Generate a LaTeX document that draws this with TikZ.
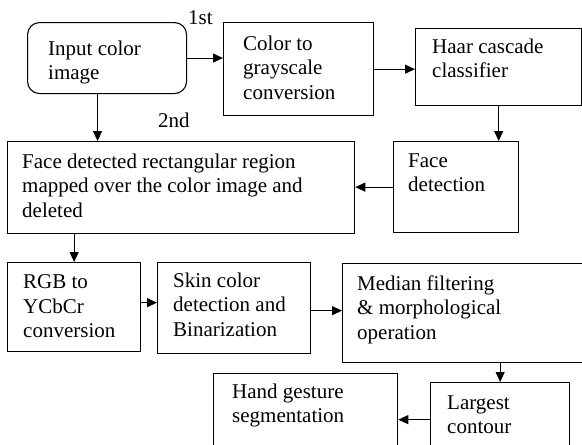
\documentclass[tikz,border=0pt]{standalone}
\usepackage{fontspec}
\setmainfont{Liberation Serif}
\usetikzlibrary{arrows.meta, positioning}

\begin{document}
\begin{tikzpicture}
    [
        x = 1pt, y = -1pt,
        stage/.style = {
            rectangle, draw=black, line width=1.3pt, anchor=north west, inner sep=0pt
            },
        start/.style = {
            stage, rounded corners=12pt, line width=1.1pt
            },
        caption/.style = {
            anchor=north west, align=left, inner sep=0pt,
            font=\fontsize{21}{24.5}\selectfont
            },
        flow/.style = {
            -{Triangle[length=10pt, width=9pt]}, line width=1.1pt
            },
    ]
    \path[use as bounding box, clip] (0,0) rectangle (582,445);
    \fill[white] (0,0) rectangle (582,445);

    % first row
    \node[start, minimum width=159pt, minimum height=71pt] (input) at (27,22) {};
    \node[caption] (input text) at ([shift={(21,18.5)}]input.north west) {Input color\\image};
    \node[stage, minimum width=150pt, minimum height=93pt] (grayscale) at (223,22) {};
    \node[caption] (grayscale text) at ([shift={(20,13.5)}]grayscale.north west) {Color to\\grayscale\\conversion};
    \node[stage, minimum width=166pt, minimum height=77pt] (haar) at (415,28) {};
    \node[caption] (haar text) at ([shift={(17,10.5)}]haar.north west) {Haar cascade\\classifier};

    % second row
    \node[stage, minimum width=347pt, minimum height=92pt] (region) at (7,141) {};
    \node[caption] (region text) at ([shift={(15,12.5)}]region.north west) {Face detected rectangular region\\mapped over the color image and\\deleted};
    \node[stage, minimum width=125pt, minimum height=91pt] (face) at (393,141) {};
    \node[caption] (face text) at ([shift={(15,12.5)}]face.north west) {Face\\detection};

    % third row
    \node[stage, minimum width=133pt, minimum height=89pt] (rgb) at (7,262) {};
    \node[caption] (rgb text) at ([shift={(16,12.5)}]rgb.north west) {RGB to\\YCbCr\\conversion};
    \node[stage, minimum width=153pt, minimum height=91pt] (skin) at (157,262) {};
    \node[caption] (skin text) at ([shift={(16,10.5)}]skin.north west) {Skin color\\detection and\\Binarization};
    \node[stage, minimum width=250pt, minimum height=99pt] (median) at (342,263) {};
    \node[caption] (median text) at ([shift={(15,12.5)}]median.north west) {Median filtering\\\& morphological\\operation};

    % last row
    \node[stage, minimum width=184pt, minimum height=90pt] (hand) at (213,373) {};
    \node[caption] (hand text) at ([shift={(19,10.5)}]hand.north west) {Hand gesture\\segmentation};
    \node[stage, minimum width=139pt, minimum height=80pt] (contour) at (430,382) {};
    \node[caption] (contour text) at ([shift={(17,13.5)}]contour.north west) {Largest\\contour};

    % order labels
    \node[caption, anchor=base west] (first) at (188,24) {1st};
    \node[caption, anchor=base west] (second) at (158,127) {2nd};

    \draw[flow] (input.east) -- (input.east -| grayscale.west);
    \draw[flow] (grayscale.east) -- (grayscale.east -| haar.west);
    \draw[flow] (haar.south) -- (haar.south |- face.north);
    \draw[flow] ([xshift=-9.5pt]input.south) -- ([xshift=-9.5pt]input.south |- region.north);
    \draw[flow] (face.west) -- (face.west -| region.east);
    \draw[flow] (rgb.north |- region.south) -- (rgb.north);
    \draw[flow] ([yshift=4.5pt]rgb.east) -- ([yshift=4.5pt]rgb.east -| skin.west);
    \draw[flow] ([yshift=-2.5pt]skin.east) -- ([yshift=-2.5pt]skin.east -| median.west);
    \draw[flow] (contour.north |- median.south) -- (contour.north);
    \draw[flow] ([yshift=3pt]contour.west) -- ([yshift=3pt]contour.west -| hand.east);
\end{tikzpicture}
\end{document}
